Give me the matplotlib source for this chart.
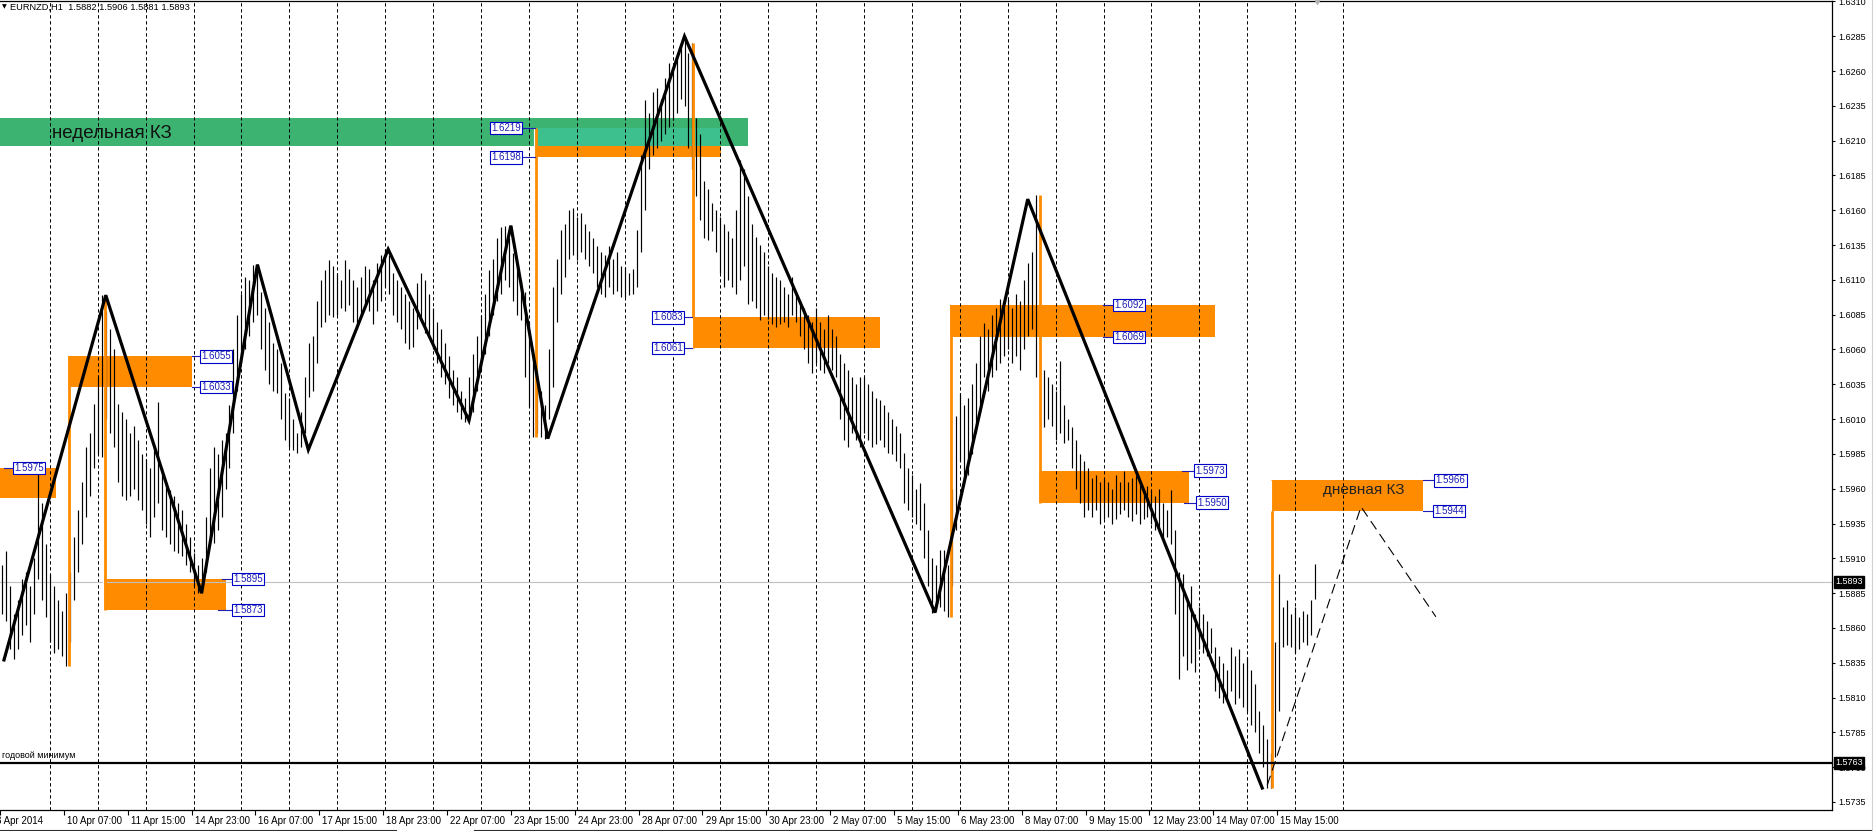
import numpy as np
import matplotlib.pyplot as plt
import matplotlib.transforms as mtransforms
from matplotlib.patches import Rectangle

plt.rcParams['font.family'] = ['Liberation Sans', 'DejaVu Sans']

# prices are kept in pips above 1.5 (893 -> 1.5893)
# one bar per 2 hours, first bar 9 Apr 00:00, one row per trading day
hi = [905, 915, 890, 870, 880, 895, 900, 890, 910, 971, 950, 920,
      899, 890, 880, 872, 885, 900, 925, 945, 965, 990, 1000, 1021,
      1040, 1099, 1088, 1075, 1060, 1021, 1015, 1010, 1000, 1005, 995, 985,
      981, 975, 990, 1022, 975, 965, 959, 955, 950, 945, 935, 925,
      914, 905, 910, 940, 975, 990, 985, 995, 1000, 1020, 1060, 1085,
      1100, 1112, 1110, 1121, 1118, 1101, 1090, 1080, 1065, 1060, 1050, 1029,
      1025, 1010, 1000, 1015, 1040, 1065, 1070, 1095, 1110, 1117, 1124, 1120,
      1115, 1110, 1124, 1118, 1110, 1105, 1112, 1120, 1118, 1110, 1122, 1128,
      1132, 1128, 1115, 1110, 1105, 1100, 1095, 1090, 1108, 1115, 1110, 1100,
      1090, 1080, 1075, 1065, 1055, 1045, 1040, 1030, 1025, 1040, 1057, 1070,
      1085, 1100, 1117, 1125, 1140, 1148, 1149, 1140, 1129, 1120, 1110, 1101,
      1080, 1060, 1045, 1030, 1020, 1060, 1105, 1125, 1146, 1150, 1160, 1162,
      1155, 1158, 1150, 1145, 1140, 1134, 1130, 1128, 1134, 1125, 1130, 1120,
      1119, 1115, 1118, 1146, 1200, 1239, 1230, 1245, 1248, 1240, 1255, 1266,
      1260, 1270, 1278, 1285, 1273, 1280, 1226, 1215, 1181, 1175, 1165, 1160,
      1155, 1150, 1145, 1140, 1160, 1196, 1190, 1170, 1150, 1141, 1135, 1130,
      1120, 1115, 1112, 1110, 1105, 1100, 1112, 1100, 1095, 1090, 1085, 1080,
      1090, 1080, 1075, 1085, 1075, 1070, 1057, 1050, 1045, 1040, 1035, 1040,
      1040, 1035, 1030, 1025, 1024, 1020, 1015, 1010, 1005, 1000, 986, 975,
      970, 960, 964, 950, 930, 910, 905, 916, 916, 905, 960, 1012,
      1029, 1020, 1025, 1035, 1050, 1070, 1079, 1075, 1085, 1090, 1096, 1090,
      1096, 1090, 1100, 1095, 1110, 1122, 1130, 1171, 1055, 1045, 1040, 1035,
      1030, 1052, 1020, 1010, 1004, 995, 985, 980, 975, 968, 970, 965,
      968, 965, 960, 970, 965, 973, 965, 968, 970, 965, 960, 962,
      959, 955, 960, 950, 945, 959, 930, 900, 899, 880, 890, 870,
      875, 870, 865, 860, 846, 840, 835, 830, 846, 840, 845, 835,
      839, 830, 820, 800, 790, 780, 770, 850, 899, 875, 880, 870,
      875, 868, 872, 870, 880, 906]
lo = [870, 865, 845, 838, 845, 855, 862, 850, 870, 895, 880, 868,
      850, 842, 845, 840, 833, 850, 880, 900, 920, 940, 955, 975,
      985, 983, 1010, 1000, 990, 965, 955, 952, 955, 960, 952, 945,
      935, 925, 940, 950, 930, 925, 920, 915, 914, 912, 905, 900,
      890, 885, 885, 900, 920, 921, 930, 940, 960, 975, 1000, 1030,
      1050, 1060, 1070, 1080, 1085, 1060, 1045, 1035, 1030, 1029, 1010, 995,
      990, 988, 986, 990, 1000, 1026, 1030, 1050, 1076, 1080, 1085, 1083,
      1085, 1090, 1088, 1092, 1080, 1075, 1085, 1090, 1088, 1078, 1088, 1095,
      1105, 1100, 1085, 1080, 1075, 1065, 1060, 1062, 1075, 1080, 1072, 1068,
      1060, 1050, 1040, 1035, 1025, 1020, 1015, 1010, 1008, 1009, 1015, 1030,
      1045, 1057, 1070, 1085, 1095, 1100, 1110, 1105, 1095, 1085, 1081, 1040,
      1019, 997, 1000, 997, 996, 1010, 1033, 1080, 1100, 1112, 1125, 1128,
      1124, 1130, 1125, 1120, 1115, 1105, 1100, 1098, 1105, 1100, 1102, 1098,
      1098, 1099, 1100, 1105, 1130, 1160, 1190, 1200, 1205, 1210, 1215, 1220,
      1225, 1230, 1240, 1235, 1205, 1190, 1170, 1153, 1140, 1139, 1145, 1130,
      1115, 1105, 1110, 1105, 1100, 1110, 1120, 1093, 1095, 1090, 1081, 1085,
      1082, 1078, 1076, 1078, 1080, 1076, 1085, 1080, 1070, 1060, 1050, 1043,
      1050, 1045, 1043, 1050, 1045, 1040, 1010, 995, 990, 1000, 995, 990,
      1000, 995, 990, 992, 995, 990, 986, 985, 980, 975, 950, 945,
      940, 935, 930, 910, 890, 871, 872, 875, 872, 868, 890, 930,
      980, 964, 970, 985, 1000, 1020, 1040, 1030, 1040, 1045, 1050, 1055,
      1060, 1050, 1055, 1045, 1060, 1070, 1075, 1040, 1010, 1004, 1010, 1005,
      995, 1000, 993, 995, 975, 960, 950, 940, 945, 940, 945, 935,
      938, 940, 935, 938, 942, 945, 940, 937, 942, 935, 938, 940,
      935, 930, 928, 925, 925, 920, 870, 823, 840, 830, 835, 828,
      845, 842, 840, 842, 815, 810, 806, 810, 815, 805, 810, 803,
      800, 790, 785, 770, 760, 745, 745, 767, 800, 846, 848, 846,
      842, 845, 850, 848, 855, 881]

# zigzag swing points (hourly bar index from 10 Apr 00:00, pips)
zz_bar = [-23, 28, 76, 104, 129.5, 169.5, 210, 231, 249.5, 318, 443.5, 490, 607.5]
zz_val = [837, 1099, 885, 1121, 988, 1132, 1009, 1149, 996, 1285, 871, 1168, 745]
proj_bar = [610, 657, 694.5]
proj_val = [747, 947, 868]

# supply / demand zones (orange) and the candle each one grows from
zone_x0 = [-30, 9, 27, 243, 322, 451, 495.5, 612]
zone_x1 = [3, 71, 88, 336.5, 416, 584, 571, 688]
zone_lo = [953, 1033, 873, 1198, 1061, 1069, 950, 944]
zone_hi = [975, 1055, 895, 1219, 1083, 1092, 973, 966]
stem_end = [None, 833, 1099, 997, 1280, 868, 1171, 745]

# weekly zone (green)
week_x = [-30, 350]
week_v = [1206, 1226]

# price tags: value, tick start, tick end (tag sits at the tick end)
tag_val = [975, 1055, 1033, 895, 873, 1219, 1198, 1083, 1061, 1092, 1069, 973, 950, 966, 944]
tag_t0 = [-23, 71, 71, 86, 84, 243, 243, 322, 322, 527.5, 527.5, 567.5, 568.5, 688, 688]
tag_t1 = [-18.5, 75, 75, 91, 91, 237, 237, 318, 318, 532.5, 532.5, 573, 574, 693.5, 693]

bid = 893
year_low = 763
ohlc = ['1.5882', '1.5906', '1.5881', '1.5893']

date_lbl = ['8 Apr 2014', '10 Apr 07:00', '11 Apr 15:00', '14 Apr 23:00', '16 Apr 07:00',
            '17 Apr 15:00', '18 Apr 23:00', '22 Apr 07:00', '23 Apr 15:00', '24 Apr 23:00',
            '28 Apr 07:00', '29 Apr 15:00', '30 Apr 23:00', '2 May 07:00', '5 May 15:00',
            '6 May 23:00', '8 May 07:00', '9 May 15:00', '12 May 23:00', '14 May 07:00',
            '15 May 15:00']
n_days = 28


def pr(v):
    return 1.5 + np.asarray(v, dtype=float) / 10000.0


ORANGE = '#FF8C00'
GREEN = '#3CB371'
TEAL = '#3DBF8E'
TAGBLUE = '#1E1EB4'

fig = plt.figure(figsize=(18.74, 8.31), dpi=100)
ax = fig.add_axes([0, 21 / 831, 1832 / 1874, 809.5 / 831])
ax.set_xlim(-23, 893)
ax.set_ylim(1.57292, 1.63107)

# zones
ax.add_patch(Rectangle((week_x[0], pr(week_v[0])), week_x[1] - week_x[0],
                       pr(week_v[1]) - pr(week_v[0]), fc=GREEN, ec='none', zorder=1))
for x0, x1, zl, zh in zip(zone_x0, zone_x1, zone_lo, zone_hi):
    ax.add_patch(Rectangle((x0, pr(zl)), x1 - x0, pr(zh) - pr(zl), fc=ORANGE, ec='none', zorder=1))
    # overlap with the weekly zone
    ox0, ox1 = max(x0, week_x[0]), min(x1, week_x[1])
    oy0, oy1 = max(zl, week_v[0]), min(zh, week_v[1])
    if ox1 > ox0 and oy1 > oy0:
        ax.add_patch(Rectangle((ox0, pr(oy0)), ox1 - ox0, pr(oy1) - pr(oy0),
                               fc=TEAL, ec='none', zorder=1.1))

ax.text(1, pr(1215), 'недельная КЗ', fontsize=13.5, va='center', ha='left',
        color='#111111', zorder=6)

# day separators
for d in range(n_days):
    ax.axvline(24 * d, color='black', lw=0.72, ls=(0, (3.3, 2.7)), zorder=2)

ax.axhline(pr(bid), color='#C0C0C0', lw=0.8, zorder=2)

# bars
bar_x = -24 + 2 * np.arange(len(hi))
ax.vlines(bar_x, pr(lo), pr(hi), color='black', lw=0.85, zorder=3)

# zone stems
for x0, zl, zh, se in zip(zone_x0, zone_lo, zone_hi, stem_end):
    if se is None:
        continue
    ax.vlines(x0 + 0.5, min(pr(zl), pr(se)), max(pr(zh), pr(se)), color=ORANGE, lw=2.0, zorder=3.5)
    ax.vlines(x0 - 0.3, pr(zl), pr(zh), color='white', lw=0.8, zorder=3.6)

# zigzag + projection
ax.plot(zz_bar, pr(zz_val), color='black', lw=2.3, solid_joinstyle='miter', zorder=5)
ax.plot(proj_bar, pr(proj_val), color='black', lw=0.8, ls=(0, (9, 5)), zorder=5)

ax.axhline(pr(year_low), color='black', lw=1.6, zorder=5)
ax.text(-24, pr(768), 'годовой минимум', fontsize=6.5, ha='left', va='center', color='black', zorder=6)

ax.text(638, pr(959), 'дневная КЗ', fontsize=11, ha='left', va='center', color='#222222', zorder=6)

# price tags
for v, t0, t1 in zip(tag_val, tag_t0, tag_t1):
    ax.plot([t0, t1], [pr(v), pr(v)], color=TAGBLUE, lw=0.8, zorder=6, clip_on=False)
    ax.text(t1 + (0.8 if t1 > t0 else -0.8), pr(v), '%.4f' % pr(v), fontsize=7,
            ha='left' if t1 > t0 else 'right', va='center', color=TAGBLUE, zorder=7,
            bbox=dict(boxstyle='square,pad=0.12', fc='white', ec='#0000C8', lw=0.8))

# shift marker
ax.plot([635], [1.63107], marker='v', color='#B4B4B4', ms=5, clip_on=False, zorder=8)

# axes
ax.spines['left'].set_visible(False)
for s in ['top', 'right', 'bottom']:
    ax.spines[s].set_linewidth(0.9)
ax.yaxis.tick_right()
yt = 1.5735 + 0.0025 * np.arange(24)
ax.set_yticks(yt)
ax.set_yticklabels(['%.4f' % t for t in yt])
ax.tick_params(axis='y', direction='out', length=2.2, width=0.8, labelsize=6.5, pad=2.5)

xt = -25 + 32 * np.arange(len(date_lbl))
ax.set_xticks(xt)
ax.set_xticklabels(date_lbl, ha='left')
ax.tick_params(axis='x', direction='out', length=3.5, width=0.8, labelsize=7, pad=0.5)
off = mtransforms.ScaledTranslation(2.2 / 72, 0, fig.dpi_scale_trans)
for lab in ax.get_xticklabels():
    lab.set_transform(lab.get_transform() + off)
first = ax.get_xticklabels()[0]
first.set_transform(first.get_transform() + mtransforms.ScaledTranslation(-5 / 72, 0, fig.dpi_scale_trans))

for v in [bid, year_low]:
    ax.annotate('%.4f' % pr(v), xy=(1, pr(v)), xycoords=('axes fraction', 'data'),
                xytext=(2.5, 0), textcoords='offset points', fontsize=6.5, color='white',
                ha='left', va='center', annotation_clip=False,
                bbox=dict(boxstyle='square,pad=0.15', fc='black', ec='black'))

# header
fig.text(2 / 1874, 1 - 7 / 831, '▼', fontsize=4.5, va='center', ha='left', family='DejaVu Sans')
fig.text(10 / 1874, 1 - 7 / 831, 'EURNZD,H1  ' + ' '.join(ohlc), fontsize=6.7,
         va='center', ha='left')

# window frame
fig.add_artist(plt.Line2D([0, 396 / 1874], [1 / 831, 1 / 831], color='#303030', lw=0.8))
fig.add_artist(plt.Line2D([474 / 1874, 1], [1 / 831, 1 / 831], color='#303030', lw=0.8))
fig.add_artist(plt.Line2D([1872 / 1874, 1872 / 1874], [0, 1], color='#D0D0D0', lw=0.8))

fig.savefig('out.png', dpi=100)
